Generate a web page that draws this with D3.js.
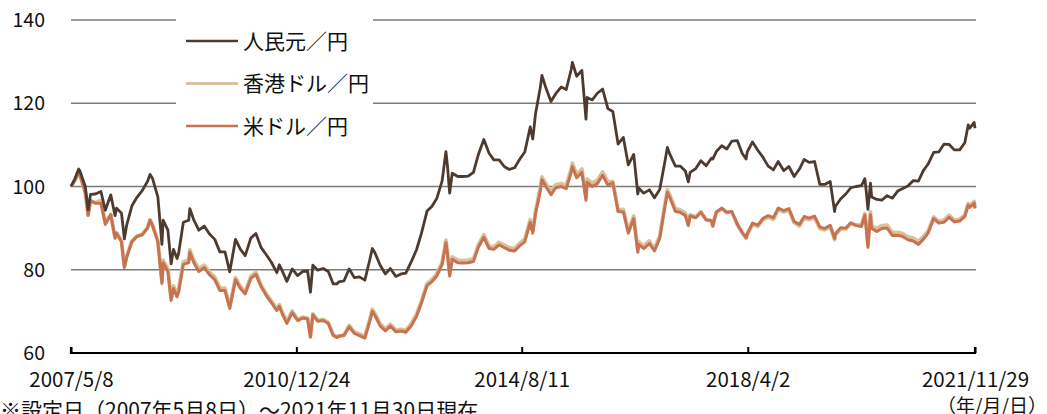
<!DOCTYPE html>
<meta charset="utf-8">
<head>
    <title>為替レートの推移</title>
    <script type="text/javascript" src="https://d3js.org/d3.v7.min.js"></script>
    <style>
        body { margin: 0; background: #fff; }
        text { font-family: "Noto Sans CJK JP", "Noto Sans", sans-serif; fill: #111; }
    </style>
</head>
<body>
    <div id="chart"></div>
    <script>
        // dates (end of month, plus some intra-month turning points)
        var dates = ["2007-05-08","2007-05-31","2007-06-22","2007-06-29","2007-07-31","2007-08-17","2007-08-31","2007-09-28","2007-10-31","2007-11-26","2007-12-28",
            "2008-01-22","2008-01-31","2008-02-29","2008-03-17","2008-03-31","2008-04-30","2008-05-30","2008-06-30","2008-07-31","2008-08-15","2008-08-29","2008-09-30","2008-10-24","2008-10-31","2008-11-28","2008-12-17","2008-12-31",
            "2009-01-21","2009-01-30","2009-02-27","2009-03-31","2009-04-06","2009-04-30","2009-05-29","2009-06-30","2009-07-31","2009-08-31","2009-09-30","2009-10-30","2009-11-27","2009-12-31",
            "2010-01-29","2010-02-26","2010-03-31","2010-04-30","2010-05-31","2010-06-30","2010-07-30","2010-08-31","2010-09-15","2010-09-30","2010-10-29","2010-11-30","2010-12-31",
            "2011-01-31","2011-02-28","2011-03-17","2011-03-31","2011-04-29","2011-05-31","2011-06-30","2011-07-29","2011-08-19","2011-08-31","2011-09-30","2011-10-31","2011-11-30","2011-12-30",
            "2012-01-31","2012-02-29","2012-03-15","2012-03-30","2012-04-30","2012-05-31","2012-06-29","2012-07-31","2012-08-31","2012-09-28","2012-10-31","2012-11-30","2012-12-28",
            "2013-01-31","2013-02-28","2013-03-29","2013-04-30","2013-05-22","2013-05-31","2013-06-13","2013-06-28","2013-07-31","2013-08-30","2013-09-30","2013-10-31","2013-11-29","2013-12-31",
            "2014-01-31","2014-02-28","2014-03-31","2014-04-30","2014-05-30","2014-06-30","2014-07-31","2014-08-29","2014-09-30","2014-10-15","2014-10-31","2014-11-28","2014-12-08","2014-12-31",
            "2015-01-30","2015-02-27","2015-03-31","2015-04-30","2015-05-29","2015-06-05","2015-06-30","2015-07-31","2015-08-24","2015-08-31","2015-09-30","2015-10-30","2015-11-30","2015-12-31",
            "2016-01-29","2016-02-29","2016-03-31","2016-04-29","2016-05-31","2016-06-24","2016-06-30","2016-07-29","2016-08-31","2016-09-30","2016-10-31","2016-11-30","2016-12-15","2016-12-30",
            "2017-01-31","2017-02-28","2017-03-31","2017-04-17","2017-04-28","2017-05-31","2017-06-30","2017-07-31","2017-08-31","2017-09-08","2017-09-29","2017-10-31","2017-11-30","2017-12-29",
            "2018-01-31","2018-02-28","2018-03-23","2018-03-30","2018-04-30","2018-05-31","2018-06-29","2018-07-31","2018-08-31","2018-09-28","2018-10-31","2018-11-30","2018-12-31",
            "2019-01-31","2019-02-28","2019-03-29","2019-04-30","2019-05-31","2019-06-28","2019-07-31","2019-08-26","2019-08-30","2019-09-30","2019-10-31","2019-11-29","2019-12-31",
            "2020-01-31","2020-02-20","2020-02-28","2020-03-09","2020-03-24","2020-03-31","2020-04-30","2020-05-29","2020-06-30","2020-07-31","2020-08-31","2020-09-30","2020-10-30","2020-11-30","2020-12-31",
            "2021-01-29","2021-02-26","2021-03-31","2021-04-30","2021-05-31","2021-06-30","2021-07-30","2021-08-31","2021-09-30","2021-10-20","2021-10-29","2021-11-24","2021-11-29"];

        // 人民元／円 (indexed, 2007/5/8 = 100)
        var cny = [100.0,101.9,104.2,103.8,100.0,94.4,98.1,98.2,98.8,94.3,98.0,
            93.0,94.8,93.6,87.4,90.8,95.3,97.4,99.0,101.2,102.9,102.0,97.5,86.1,91.9,89.5,81.4,84.9,
            82.7,83.9,91.4,91.9,94.7,91.9,89.5,90.5,88.6,87.3,84.3,84.3,79.5,87.3,
            84.9,83.4,87.6,88.7,85.3,83.6,81.8,79.3,81.2,79.9,77.2,80.2,78.6,
            79.6,79.7,74.6,81.1,79.9,80.3,79.6,76.6,76.6,77.1,77.3,80.2,78.1,78.3,
            77.5,82.4,85.1,84.1,81.1,79.0,80.3,78.4,79.0,79.2,82.0,84.8,88.6,
            94.1,95.2,97.1,101.4,108.4,105.0,98.4,103.2,102.4,102.4,102.5,103.4,107.7,111.3,
            108.0,106.4,106.4,104.8,104.1,104.5,106.6,108.3,114.3,111.4,117.4,123.7,126.7,123.7,
            120.4,122.3,123.9,123.3,128.1,129.8,126.5,127.9,116.2,121.4,120.8,122.4,123.4,118.7,
            118.0,110.2,111.8,105.2,107.7,98.2,99.6,98.4,99.2,97.3,99.3,105.9,109.4,107.7,
            104.9,104.9,103.7,101.1,103.4,104.3,106.2,105.0,106.8,106.6,108.4,109.8,109.0,110.9,
            111.0,108.0,106.6,108.3,110.7,108.7,107.1,104.9,104.0,106.0,103.8,104.8,102.4,
            104.2,106.5,105.8,106.0,100.5,100.5,101.2,94.0,95.2,97.0,98.2,99.7,100.0,
            100.2,101.9,98.9,94.5,100.8,97.5,96.9,96.7,97.8,97.2,98.9,99.5,100.1,101.4,101.3,
            103.8,105.4,108.2,108.3,110.2,110.1,108.8,108.8,110.5,114.8,114.0,115.4,114.0];

        // 香港ドル／円
        var hkd = [100.0,101.4,103.4,102.9,98.5,93.1,96.5,96.1,96.7,91.3,93.3,
            87.7,88.9,86.9,80.8,83.3,86.9,88.1,88.5,90.1,92.0,90.8,87.1,77.2,82.3,80.2,73.2,76.1,
            74.0,75.1,81.9,82.3,84.8,82.3,80.2,81.1,79.4,78.2,75.6,75.6,71.2,78.1,
            76.0,74.7,78.4,79.4,76.3,74.2,72.5,70.6,71.6,70.0,67.6,70.1,68.1,
            68.6,68.4,64.0,69.4,67.9,68.1,67.3,64.4,63.9,64.1,64.3,66.6,65.0,64.6,
            64.0,68.1,70.5,69.5,67.0,65.8,66.9,65.5,65.7,65.5,67.1,69.3,72.4,
            76.7,77.6,79.0,81.8,87.1,84.4,79.0,83.1,82.3,82.2,82.3,82.6,86.0,88.4,
            85.7,85.5,86.6,85.9,85.3,85.1,86.4,87.3,92.0,89.4,94.0,99.6,102.3,100.7,
            98.7,100.4,100.7,100.3,104.2,105.6,102.9,104.2,97.4,101.8,100.8,101.5,103.5,101.1,
            101.2,94.3,94.5,89.4,92.9,84.8,86.7,85.7,86.9,85.1,88.1,95.6,99.2,97.9,
            94.6,94.4,93.6,91.0,93.2,92.7,93.9,92.0,91.8,90.5,93.8,94.7,93.7,93.9,
            90.8,88.9,87.6,88.4,90.9,90.4,92.0,92.6,92.1,94.5,93.9,94.4,91.3,
            90.5,92.4,92.0,92.5,89.9,89.6,90.4,87.2,88.3,89.8,89.8,91.1,90.8,
            90.8,93.5,90.4,86.0,93.9,90.6,89.9,90.6,90.7,88.9,89.0,88.7,87.9,87.6,86.8,
            87.9,89.3,92.7,91.6,91.9,93.1,91.9,92.1,93.2,95.9,95.4,96.4,95.0];

        // 米ドル／円
        var usd = [100.0,101.5,103.5,103.0,98.6,93.1,96.6,96.0,96.0,90.9,93.2,
            87.6,88.8,86.7,80.5,83.0,86.7,88.0,88.4,90.0,91.9,90.7,86.7,76.7,81.7,79.6,72.6,75.5,
            73.5,74.6,81.3,81.7,84.2,81.7,79.6,80.5,78.8,77.6,75.0,75.0,70.7,77.6,
            75.5,74.2,77.9,78.9,75.9,73.8,72.1,70.2,71.2,69.6,67.1,69.7,67.8,
            68.4,68.2,63.8,69.2,67.6,67.8,67.1,64.2,63.7,64.0,64.2,66.3,64.7,64.2,
            63.6,67.6,70.0,69.0,66.5,65.3,66.5,65.1,65.3,65.0,66.6,68.8,71.9,
            76.2,77.1,78.5,81.3,86.5,83.8,78.5,82.5,81.7,81.6,81.7,82.0,85.4,87.8,
            85.1,84.9,86.0,85.3,84.7,84.5,85.8,86.7,91.4,88.8,93.4,98.9,101.6,100.0,
            98.0,99.7,100.0,99.5,103.4,104.8,102.1,103.4,96.7,101.0,100.0,100.7,102.7,100.3,
            100.9,94.0,93.9,88.8,92.3,84.2,86.1,85.1,86.3,84.5,87.5,95.0,98.6,97.3,
            94.0,93.8,93.0,90.6,92.9,92.5,93.8,92.0,91.8,90.5,93.9,94.8,93.8,94.0,
            90.9,89.0,87.7,88.6,91.2,90.7,92.3,93.0,92.5,94.8,94.2,94.7,91.6,
            90.9,92.8,92.4,92.9,90.3,89.9,90.7,87.5,88.6,90.1,90.0,91.3,90.6,
            90.4,93.1,90.0,85.4,93.2,89.9,89.2,89.9,90.0,88.2,88.3,88.0,87.2,86.9,86.1,
            87.3,88.8,92.3,91.2,91.4,92.6,91.5,91.7,92.8,95.5,95.0,96.0,94.7];

        var seriesNames = ["人民元／円", "香港ドル／円", "米ドル／円"];
        var seriesColors = ["#4e3b2f", "#d6c29e", "#c8724f"];
        var yTicks = [60, 80, 100, 120, 140];
        var xTickDates = ["2007-05-08", "2010-12-24", "2014-08-11", "2018-04-02", "2021-11-29"];
        var xTickLabels = ["2007/5/8", "2010/12/24", "2014/8/11", "2018/4/2", "2021/11/29"];

        var width = 1047;
        var height = 414;
        var margin = { top: 20, left: 71, bottom: 61, right: 72 };

        var svg = d3.select("#chart").append("svg")
                    .attr("width", width)
                    .attr("height", height);

        var parse = d3.timeParse("%Y-%m-%d");
        var dateObjs = dates.map(parse);

        var x = d3.scaleTime()
                  .domain([parse("2007-05-08"), parse("2021-11-29")])
                  .range([margin.left, width - margin.right]);
        var y = d3.scaleLinear()
                  .domain([60, 140])
                  .range([height - margin.bottom, margin.top]);

        // gridlines
        svg.append("g").selectAll("line")
           .data(yTicks.filter(function(d) { return d > 60; }))
           .enter().append("line")
           .attr("x1", margin.left).attr("x2", width - margin.right + 1)
           .attr("y1", function(d) { return y(d); })
           .attr("y2", function(d) { return y(d); })
           .attr("stroke", "#7a7a7a")
           .attr("stroke-width", 1.4);

        // y labels
        svg.append("g").selectAll("text")
           .data(yTicks)
           .enter().append("text")
           .attr("x", 45)
           .attr("y", function(d) { return y(d); })
           .attr("dy", "0.36em")
           .attr("text-anchor", "end")
           .attr("font-size", "19.5px")
           .text(function(d) { return d; });

        // x axis
        var xAxis = d3.axisBottom(x)
                      .tickValues(xTickDates.map(parse))
                      .tickSize(-6)
                      .tickFormat(function(d, i) { return xTickLabels[i]; })
                      .tickPadding(19);
        var gx = svg.append("g")
                    .attr("transform", "translate(0," + y(60) + ")")
                    .call(xAxis);
        gx.select(".domain").attr("stroke", "#000").attr("stroke-width", 2.2)
          .attr("d", "M" + margin.left + ",-6V0H" + (width - margin.right) + "V-6");
        gx.selectAll(".tick line").attr("stroke", "#000").attr("stroke-width", 2);
        gx.selectAll(".tick text")
          .attr("font-size", "20.5px")
          .attr("font-family", "'Noto Sans CJK JP', sans-serif")
          .attr("fill", "#111");

        // lines: hkd underneath, then usd, then cny on top
        var order = [1, 2, 0];
        var valueSets = [cny, hkd, usd];
        var widths = [2.8, 3.8, 3];
        order.forEach(function(k) {
            var line = d3.line()
                         .x(function(d, i) { return x(dateObjs[i]); })
                         .y(function(d) { return y(d); });
            svg.append("path")
               .datum(valueSets[k])
               .attr("fill", "none")
               .attr("stroke", seriesColors[k])
               .attr("stroke-width", widths[k])
               .attr("stroke-linejoin", "round")
               .attr("d", line);
        });

        // legend with white background over gridlines
        var legend = svg.append("g");
        legend.append("rect")
              .attr("x", 176).attr("y", 12)
              .attr("width", 197).attr("height", 128)
              .attr("fill", "#fff");
        seriesNames.forEach(function(name, i) {
            var ly = 41 + i * 42.5;
            legend.append("line")
                  .attr("x1", 186).attr("x2", 238)
                  .attr("y1", ly).attr("y2", ly)
                  .attr("stroke", seriesColors[i])
                  .attr("stroke-width", i == 1 ? 3 : 2.6);
            legend.append("text")
                  .attr("x", 243).attr("y", ly)
                  .attr("dy", "0.36em")
                  .attr("font-size", "21px")
                  .text(name);
        });

        // notes
        svg.append("text")
           .attr("x", 0).attr("y", 418)
           .attr("font-size", "21px")
           .text("※設定日（2007年5月8日）～2021年11月30日現在");
        svg.append("text")
           .attr("x", width).attr("y", 413)
           .attr("text-anchor", "end")
           .attr("font-size", "19px")
           .text("（年/月/日）");
    </script>
</body>
